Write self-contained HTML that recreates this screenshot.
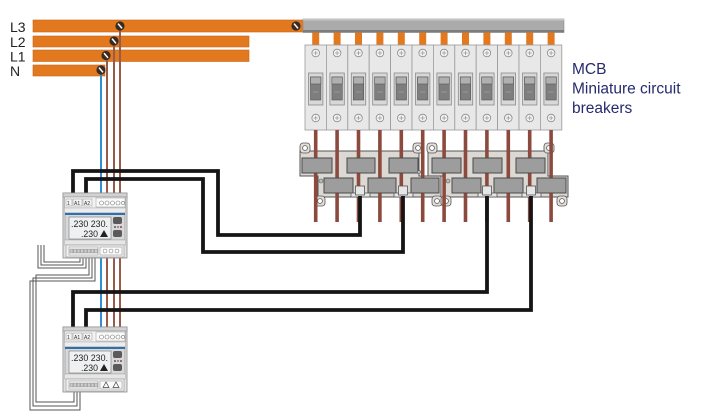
<!DOCTYPE html>
<html><head><meta charset="utf-8"><style>
html,body{margin:0;padding:0;background:#fff;}
svg{display:block;}
text{font-family:"Liberation Sans",sans-serif;}
</style></head><body>
<svg width="705" height="420" viewBox="0 0 705 420" xmlns="http://www.w3.org/2000/svg">
<defs>
 <g id="scr"><circle r="4.6" fill="#3a2b22"/><line x1="-2" y1="-2.4" x2="2" y2="2.4" stroke="#fff" stroke-width="1.5"/></g>
 <g id="mcb">
  <rect x="0" y="45" width="21.4" height="85" fill="#e8e8e8" stroke="#9a9a9a" stroke-width="0.8"/>
  <circle cx="10.7" cy="53" r="3.8" fill="#f4f4f4" stroke="#8a8a8a" stroke-width="0.8"/>
  <path d="M8.5,53h4.4M10.7,50.8v4.4" stroke="#999" stroke-width="0.8"/>
  <circle cx="10.7" cy="118" r="3.8" fill="#f4f4f4" stroke="#8a8a8a" stroke-width="0.8"/>
  <path d="M8.5,118h4.4M10.7,115.8v4.4" stroke="#999" stroke-width="0.8"/>
  <rect x="3.5" y="73" width="14.4" height="32" fill="#d8d8d8" stroke="#8a8a8a" stroke-width="0.8"/>
  <rect x="5.5" y="77" width="10.4" height="23" fill="#7e7e7e" stroke="#555" stroke-width="0.6"/>
  <rect x="5.5" y="77" width="10.4" height="7" fill="#b0b0b0" stroke="#555" stroke-width="0.6"/>
  <line x1="8" y1="92" x2="13.4" y2="92" stroke="#aaa" stroke-width="0.6"/>
 </g>
 <g id="ear"><rect x="-5" y="-5" width="10" height="10" rx="3" fill="#e2deda" stroke="#555" stroke-width="0.8"/><circle r="2.4" fill="#fff" stroke="#555" stroke-width="0.8"/></g>
 <g id="meterbody">
  <rect x="0" y="0" width="64" height="65" fill="#e2e2e2" stroke="#8c8c8c" stroke-width="0.8"/>
  <rect x="0" y="0" width="64" height="4" fill="#d2d2d2" stroke="#8c8c8c" stroke-width="0.6"/>
  <rect x="1.5" y="4" width="61" height="11" fill="#f3f3f3" stroke="#999" stroke-width="0.6"/>
  <rect x="3" y="6" width="6" height="7" fill="none" stroke="#999" stroke-width="0.5"/>
  <rect x="10" y="6" width="9" height="7" fill="none" stroke="#999" stroke-width="0.5"/>
  <rect x="20" y="6" width="9" height="7" fill="none" stroke="#999" stroke-width="0.5"/>
  <rect x="33" y="5" width="29" height="9" fill="#fafafa" stroke="#999" stroke-width="0.5"/>
  <g fill="#fff" stroke="#777" stroke-width="0.6">
   <circle cx="38.5" cy="10" r="2"/><circle cx="44" cy="10" r="2"/><circle cx="49.5" cy="10" r="2"/><circle cx="55" cy="10" r="2"/><circle cx="60" cy="10" r="1.6"/>
  </g>
  <rect x="1.5" y="15" width="61" height="5" fill="#ececec" stroke="#aaa" stroke-width="0.5"/>
  <rect x="2" y="20" width="60" height="27" fill="#d8d8d8" stroke="#8a8a8a" stroke-width="0.6"/>
  <rect x="2" y="20" width="60" height="2" fill="#2d6fb3"/>
  <rect x="6" y="24" width="42" height="22" fill="#eef0f1" stroke="#777" stroke-width="0.6"/>
  <rect x="50" y="24" width="9" height="7" rx="2" fill="#5a5a5a"/>
  <rect x="50" y="37" width="9" height="7" rx="2" fill="#5a5a5a"/>
  <circle cx="52" cy="34" r="0.9" fill="#333"/><circle cx="55" cy="34" r="0.9" fill="#c33"/><circle cx="58" cy="34" r="0.9" fill="#333"/>
  <rect x="1.5" y="47" width="61" height="5" fill="#e6e6e6" stroke="#aaa" stroke-width="0.5"/>
  <rect x="3" y="52" width="58" height="12" fill="#f0f0f0" stroke="#999" stroke-width="0.6"/>
  <rect x="6" y="54" width="29" height="8" fill="#fafafa" stroke="#888" stroke-width="0.5"/>
  <g fill="#ccc" stroke="#777" stroke-width="0.4">
   <rect x="7" y="56" width="3" height="4"/><rect x="10.5" y="56" width="3" height="4"/><rect x="14" y="56" width="3" height="4"/><rect x="17.5" y="56" width="3" height="4"/>
   <rect x="21" y="56" width="3" height="4"/><rect x="24.5" y="56" width="3" height="4"/><rect x="28" y="56" width="3" height="4"/><rect x="31.5" y="56" width="3" height="4"/>
  </g>
  <rect x="37" y="54" width="22" height="8" fill="#fafafa" stroke="#888" stroke-width="0.5"/>
 </g>
</defs>

<!-- bus bar labels -->
<g font-size="14" fill="#222">
 <text x="10" y="32">L3</text>
 <text x="10" y="47">L2</text>
 <text x="10" y="61.5">L1</text>
 <text x="10" y="76">N</text>
</g>

<!-- bus bars -->
<rect x="33" y="20" width="272" height="12" fill="#e3791e" stroke="#c8661a" stroke-width="0.6"/>
<rect x="33" y="36" width="216" height="11" fill="#e3791e" stroke="#c8661a" stroke-width="0.6"/>
<rect x="33" y="50" width="216" height="11.5" fill="#e3791e" stroke="#c8661a" stroke-width="0.6"/>
<rect x="33" y="65" width="72" height="11" fill="#e3791e" stroke="#c8661a" stroke-width="0.6"/>

<!-- vertical supply wires -->
<g fill="none" stroke-width="2">
 <path d="M101,72V197M101,257V331" stroke="#2f8fd0"/>
 <path d="M107,57V197M107,257V331" stroke="#9a5a4a"/>
 <path d="M114,43V197M114,257V331" stroke="#9a5a4a"/>
 <path d="M120,28V197M120,257V331" stroke="#9a5a4a"/>
</g>

<use href="#scr" x="120" y="26"/>
<use href="#scr" x="296" y="26"/>
<use href="#scr" x="114" y="41"/>
<use href="#scr" x="106" y="55.5"/>
<use href="#scr" x="101" y="70"/>

<!-- gray MCB comb bar -->
<rect x="303" y="19" width="261" height="13.5" fill="#ababab" stroke="#8a8a8a" stroke-width="0.6"/>
<rect x="303" y="30" width="261" height="2.5" fill="#7c7c7c"/>
<rect x="303" y="19" width="261" height="1.5" fill="#c6c6c6"/>

<!-- orange tabs -->
<g fill="#e3791e">
 <rect x="312.2" y="32.5" width="7" height="12.5"/><rect x="333.6" y="32.5" width="7" height="12.5"/><rect x="355" y="32.5" width="7" height="12.5"/>
 <rect x="376.4" y="32.5" width="7" height="12.5"/><rect x="397.8" y="32.5" width="7" height="12.5"/><rect x="419.2" y="32.5" width="7" height="12.5"/>
 <rect x="440.6" y="32.5" width="7" height="12.5"/><rect x="462" y="32.5" width="7" height="12.5"/><rect x="483.4" y="32.5" width="7" height="12.5"/>
 <rect x="504.8" y="32.5" width="7" height="12.5"/><rect x="526.2" y="32.5" width="7" height="12.5"/><rect x="547.6" y="32.5" width="7" height="12.5"/>
</g>

<!-- MCB modules -->
<use href="#mcb" x="305"/><use href="#mcb" x="326.4"/><use href="#mcb" x="347.8"/><use href="#mcb" x="369.2"/>
<use href="#mcb" x="390.6"/><use href="#mcb" x="412"/><use href="#mcb" x="433.4"/><use href="#mcb" x="454.8"/>
<use href="#mcb" x="476.2"/><use href="#mcb" x="497.6"/><use href="#mcb" x="519"/><use href="#mcb" x="540.4"/>

<!-- MCB label -->
<g font-size="15.5" fill="#262a6e">
 <text x="572" y="74">MCB</text>
 <text x="572" y="93.5">Miniature circuit</text>
 <text x="572" y="113">breakers</text>
</g>

<!-- CT block backgrounds -->
<polygon points="300,151 419,151 419,176 441,176 441,197 318,197 318,176 300,176" fill="#dcd8d4" stroke="#555" stroke-width="1"/>
<polygon points="428,151 548,151 548,176 568,176 568,197 445,197 445,176 428,176" fill="#dcd8d4" stroke="#555" stroke-width="1"/>
<use href="#ear" x="305" y="148"/><use href="#ear" x="418" y="148"/><use href="#ear" x="320" y="201"/><use href="#ear" x="437" y="201"/>
<use href="#ear" x="432" y="148"/><use href="#ear" x="549" y="148"/><use href="#ear" x="446" y="201"/><use href="#ear" x="562" y="201"/>

<!-- brown outgoing wires -->
<g stroke="#8c4a3e" stroke-width="3.6">
 <path d="M315.7,130V222M337.1,130V222M358.5,130V222M379.9,130V222M401.3,130V222M422.7,130V222M444.1,130V222M465.5,130V222M486.9,130V222M508.3,130V222M529.7,130V222M551.1,130V222"/>
</g>

<!-- CT gray rectangles -->
<g fill="#9d9d9d" stroke="#4a4a4a" stroke-width="1">
 <rect x="302" y="158" width="30" height="15"/><rect x="347" y="158" width="28" height="15"/><rect x="389" y="158" width="29" height="15"/>
 <rect x="324" y="178" width="29" height="15"/><rect x="368" y="178" width="28" height="15"/><rect x="411" y="178" width="28" height="15"/>
 <rect x="432" y="158" width="29" height="15"/><rect x="473" y="158" width="29" height="15"/><rect x="516" y="158" width="29" height="15"/>
 <rect x="452" y="178" width="29" height="15"/><rect x="494" y="178" width="29" height="15"/><rect x="537" y="178" width="29" height="15"/>
</g>
<g fill="#e6e6e6" stroke="#555" stroke-width="0.8">
 <rect x="351" y="193" width="19" height="4"/><rect x="394" y="193" width="19" height="4"/><rect x="478" y="193" width="19" height="4"/><rect x="522" y="193" width="19" height="4"/>
 <rect x="355.5" y="186" width="9" height="9"/><rect x="398.5" y="186" width="9" height="9"/><rect x="482.5" y="186" width="9" height="9"/><rect x="526.5" y="186" width="9" height="9"/>
</g>
<g fill="#bbb" stroke="#555" stroke-width="0.6">
 <circle cx="321" cy="181" r="2"/><circle cx="448" cy="181" r="2"/><circle cx="419" cy="172" r="1.6"/>
</g>

<!-- black CT wires -->
<g fill="none" stroke="#151515" stroke-width="3.8" stroke-linejoin="miter">
 <path d="M360,196V235H218V171H73V197"/>
 <path d="M403,196V252H203V179H86V197"/>
 <path d="M487,196V292H73V331"/>
 <path d="M531,196V310H86V331"/>
</g>

<!-- gray thin wires on left -->
<g fill="none" stroke="#555" stroke-width="1">
 <path d="M44,245V262H80V257"/>
 <path d="M41,245V265H83V257"/>
 <path d="M38,245V268H86V257"/>
 <path d="M89,257V275H36V402H74V392"/>
 <path d="M92,257V278H33V406H77V392"/>
 <path d="M95,257V281H30V410H80V392"/>
</g>

<!-- meter 1 -->
<g transform="translate(63,193)">
 <use href="#meterbody"/>
 <text x="4" y="12" font-size="5" fill="#333">1</text>
 <text x="11" y="12" font-size="5" fill="#333">A1</text>
 <text x="21" y="12" font-size="5" fill="#333">A2</text>
 <text x="8" y="34" font-size="9" fill="#222" textLength="37" lengthAdjust="spacingAndGlyphs">.230 230.</text>
 <text x="18" y="44" font-size="9" fill="#222" textLength="17" lengthAdjust="spacingAndGlyphs">.230</text>
 <polygon points="41,37 37,44 45,44" fill="#222"/>
 <g fill="#fff" stroke="#777" stroke-width="0.5"><circle cx="42" cy="58" r="2"/><circle cx="48" cy="58" r="2"/><circle cx="54" cy="58" r="2"/></g>
</g>

<!-- meter 2 -->
<g transform="translate(63,327)">
 <use href="#meterbody"/>
 <text x="4" y="12" font-size="5" fill="#333">1</text>
 <text x="11" y="12" font-size="5" fill="#333">A1</text>
 <text x="21" y="12" font-size="5" fill="#333">A2</text>
 <text x="8" y="34" font-size="9" fill="#222" textLength="37" lengthAdjust="spacingAndGlyphs">.230 230.</text>
 <text x="18" y="44" font-size="9" fill="#222" textLength="17" lengthAdjust="spacingAndGlyphs">.230</text>
 <polygon points="41,37 37,44 45,44" fill="#222"/>
 <g fill="none" stroke="#444" stroke-width="0.7"><polygon points="43,55 40,60.5 46,60.5"/><polygon points="53,55 50,60.5 56,60.5"/></g>
</g>
</svg>
</body></html>
